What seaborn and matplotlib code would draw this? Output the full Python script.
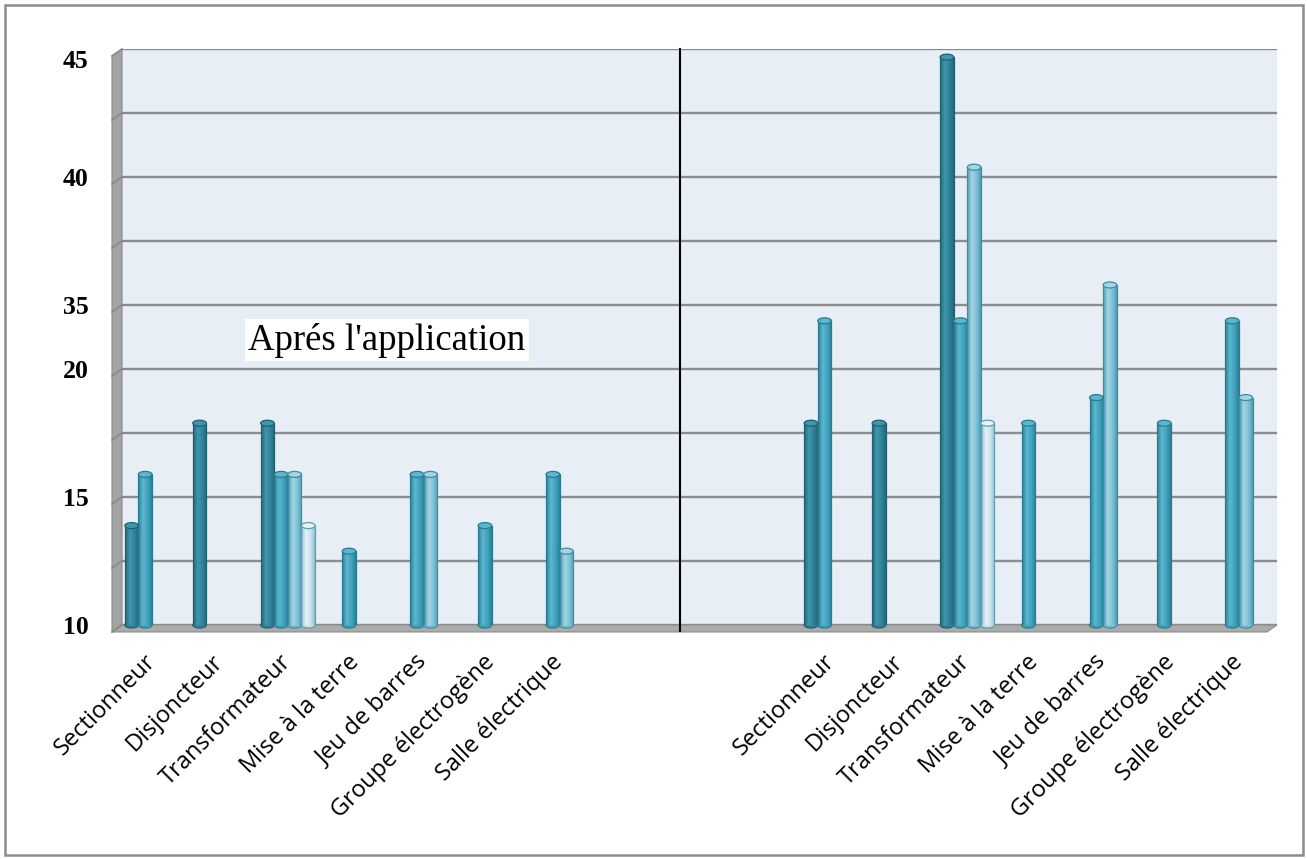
import numpy as np
import pandas as pd
import matplotlib
matplotlib.use("Agg")
import matplotlib.pyplot as plt
from matplotlib.patches import Polygon, Ellipse, Rectangle
from matplotlib.colors import LinearSegmentedColormap, to_rgba
from matplotlib.transforms import ScaledTranslation
import seaborn as sns

# ---- data -------------------------------------------------------------
categories = ["Sectionneur", "Disjoncteur", "Transformateur", "Mise à la terre",
              "Jeu de barres", "Groupe électrogène", "Salle électrique"]
series_names = ["Série 1", "Série 2", "Série 3", "Série 4"]
nan = np.nan

# left block ("Aprés l'application")
gauche_s1 = [14, 18, 18, nan, nan, nan, nan]
gauche_s2 = [16, nan, 16, 13, 16, 14, 16]
gauche_s3 = [nan, nan, 16, nan, 16, nan, 13]
gauche_s4 = [nan, nan, 14, nan, nan, nan, nan]

# right block
droite_s1 = [18, 18, 32.3, nan, nan, nan, nan]
droite_s2 = [22, nan, 22, 18, 19, 18, 22]
droite_s3 = [nan, nan, 28, nan, 23.4, nan, 19]
droite_s4 = [nan, nan, 18, nan, nan, nan, nan]

n_gap = 3  # empty slots between the two blocks
y_tick_labels = ["10", "15", "20", "35", "40", "45"]
y_tick_grid_index = [0, 2, 4, 5, 7, 9]

# ---- build long table ---------------------------------------------------
x_labels = categories + [""] * n_gap + categories
rows = []
for name, g, d in zip(series_names,
                      [gauche_s1, gauche_s2, gauche_s3, gauche_s4],
                      [droite_s1, droite_s2, droite_s3, droite_s4]):
    for i, v in enumerate(g):
        if not np.isnan(v):
            rows.append({"pos": i, "serie": name, "valeur": v})
    for i, v in enumerate(d):
        if not np.isnan(v):
            rows.append({"pos": len(categories) + n_gap + i, "serie": name, "valeur": v})
df = pd.DataFrame(rows)
n_pos = len(x_labels)

# ---- styling ------------------------------------------------------------
body = ["#2F8298", "#3FA2BC", "#7DC1D6", "#C8E3EC"]
light = ["#3F97AE", "#5BB7CF", "#A3D5E4", "#E6F3F7"]
dark = ["#24687A", "#2D8099", "#4E9DB4", "#8EBFCF"]
edge = ["#22606F", "#2A7B90", "#3F8CA3", "#5F9DB1"]

W, H = 1307, 859
fig = plt.figure(figsize=(W / 100, H / 100), dpi=100)
fig.patch.set_facecolor("white")

ax_l, ax_r, ax_t, ax_b = 122, 1277, 49, 625
ax = fig.add_axes([ax_l / W, 1 - ax_b / H, (ax_r - ax_l) / W, (ax_b - ax_t) / H])
ax.set_facecolor("#E7EEF5")

y0, y1 = 10, 32.5
sns.barplot(data=df, x="pos", y="valeur", hue="serie", order=list(range(n_pos)),
            hue_order=series_names, palette=body, dodge=True, width=0.8,
            errorbar=None, legend=False, ax=ax, zorder=3)

# category spacing so that first/last slots land where wanted
x_left = -0.4416
x_right = n_pos - 1 + 0.559
ax.set_xlim(x_left, x_right)
ax.set_ylim(y0, y1)

px_per_unit = (ax_b - ax_t) / (y1 - y0)
e_h = 6 / px_per_unit  # height of the cylinder caps, in data units

palette_rgba = [to_rgba(c) for c in body]
for p in list(ax.patches):
    fc = p.get_facecolor()
    k = int(np.argmin([np.sum((np.array(fc) - np.array(c)) ** 2) for c in palette_rgba]))
    x0, w, top = p.get_x(), p.get_width(), p.get_height()
    cmap = LinearSegmentedColormap.from_list(
        "cyl", [(0, dark[k]), (0.35, light[k]), (0.7, body[k]), (1, dark[k])])
    grad = np.linspace(0, 1, 64)[None, :]
    ax.imshow(grad, cmap=cmap, extent=[x0, x0 + w, y0, top - e_h / 2],
              aspect="auto", zorder=3.1, interpolation="bilinear")
    p.set_facecolor("none")
    p.set_edgecolor(edge[k])
    p.set_linewidth(0.9)
    p.set_height(top - e_h / 2)
    p.set_zorder(3.2)
    # bottom and top caps
    ax.add_patch(Ellipse((x0 + w / 2, y0), w, e_h, facecolor=body[k],
                         edgecolor=edge[k], lw=0.9, zorder=3.0, clip_on=False))
    ax.add_patch(Ellipse((x0 + w / 2, top - e_h / 2), w, e_h, facecolor=light[k],
                         edgecolor=edge[k], lw=0.9, zorder=3.3))

ax.set_xlim(x_left, x_right)
ax.set_ylim(y0, y1)

# grid and ticks
grid_vals = np.arange(y0, y1 + 0.01, 2.5)
ax.set_yticks(grid_vals)
lab = [""] * len(grid_vals)
for i, t in zip(y_tick_grid_index, y_tick_labels):
    lab[i] = t
ax.set_yticklabels(lab, fontfamily="Liberation Serif", fontweight="bold", fontsize=18.5)
ax.yaxis.grid(True, color="#8C8C8C", lw=1.7)
ax.set_axisbelow(True)
ax.tick_params(axis="y", length=0, pad=24)
# the top label sits a little below its gridline
top_lab = ax.get_yticklabels()[-1]
top_lab.set_transform(top_lab.get_transform() + ScaledTranslation(0, -10 / 100, fig.dpi_scale_trans))

ax.set_xticks(range(n_pos))
ax.set_xticklabels(x_labels, rotation=45, ha="right", va="center", rotation_mode="anchor",
                   fontfamily="Open Sans", fontsize=17)
ax.tick_params(axis="x", length=0, pad=24)
for s in ax.spines.values():
    s.set_visible(False)
ax.set_xlabel("")
ax.set_ylabel("")

def fpt(px, py):
    return (px / W, 1 - py / H)

# left side wall with its gridline stubs
wall = Polygon([fpt(112, 56), fpt(122, 49), fpt(122, 625), fpt(112, 632)],
               closed=True, transform=fig.transFigure, facecolor="#A3A3A3",
               edgecolor="#8A8A8A", lw=0.8, clip_on=False, zorder=0.5)
ax.add_patch(wall)
for gv in grid_vals:
    py = ax_b - (gv - y0) * px_per_unit
    ax.add_line(plt.Line2D([112 / W, 122 / W], [1 - (py + 7) / H, 1 - py / H],
                           transform=fig.transFigure, color="#888888", lw=1.2,
                           clip_on=False, zorder=0.6))

# floor
floor = Polygon([fpt(122, 625), fpt(1277, 625), fpt(1267, 632), fpt(112, 632)],
                closed=True, transform=fig.transFigure, facecolor="#ABABAB",
                edgecolor="#8E8E8E", lw=0.8, clip_on=False, zorder=0.5)
ax.add_patch(floor)

# separator between the two blocks
x_sep = (680 - 152) / ((1239 - 152) / (n_pos - 1))
ax.plot([x_sep, x_sep], [y0 - 0.25, y1], color="black", lw=1.5, clip_on=False, zorder=4)

# block title
ax.text((387 - ax_l) / (ax_r - ax_l), (ax_b - 340) / (ax_b - ax_t), "Aprés l'application",
        transform=ax.transAxes, ha="center", va="center", fontsize=26.5,
        fontfamily="Liberation Serif", color="black", zorder=5,
        bbox=dict(boxstyle="square,pad=0.1", facecolor="white", edgecolor="none"))

# outer frame
fig.add_artist(Rectangle((5 / W, 4 / H), (W - 9) / W, (H - 9) / H, transform=fig.transFigure,
                         fill=False, edgecolor="#8C8C8C", lw=1.8))

fig.savefig("out.png", dpi=100)
